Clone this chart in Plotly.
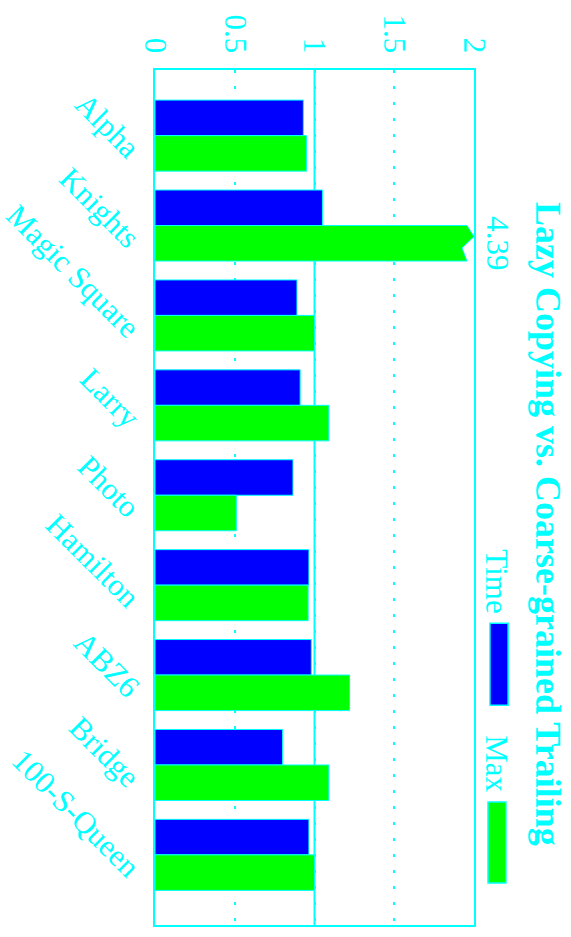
import plotly.graph_objects as go

categories = ["Alpha", "Knights", "Magic Square", "Larry", "Photo",
              "Hamilton", "ABZ6", "Bridge", "100-S-Queen"]
time_vals = [0.93, 1.05, 0.89, 0.91, 0.865, 0.965, 0.98, 0.80, 0.965]
max_vals = [0.95, 4.39, 1.00, 1.09, 0.51, 0.96, 1.22, 1.09, 1.00]
x_ticks = [0, 0.5, 1, 1.5, 2]
x_tick_labels = ["0", "0.5", "1", "1.5", "2"]
AXIS_MAX = 2.0

CYAN = "#00FFFF"
BLUE = "#0000FF"
GREEN = "#00FF00"
FONT = "Liberation Serif"
BARGAP = 0.21
W = (1 - BARGAP) / 2  # thickness of one bar in category units

idx = list(range(len(categories)))

fig = go.Figure()
fig.add_trace(go.Bar(
    y=idx, x=time_vals, orientation="h", name="Time",
    marker=dict(color=BLUE, line=dict(color=CYAN, width=1)),
))
clipped = [v > AXIS_MAX for v in max_vals]
fig.add_trace(go.Bar(
    y=idx, x=max_vals, orientation="h", name="Max",
    marker=dict(color=["rgba(0,0,0,0)" if c else GREEN for c in clipped],
                line=dict(color=CYAN, width=[0 if c else 1 for c in clipped])),
))

shapes = []
annotations = []
# clipped bars: broken end drawn as path
for i, (v, c) in enumerate(zip(max_vals, clipped)):
    if not c:
        continue
    y0 = i
    y1 = i + W
    yt = y0 + 0.31 * W
    yn = y0 + 0.63 * W
    a = AXIS_MAX * 0.978
    b = AXIS_MAX * 0.9625
    shapes.append(dict(
        type="path", xref="x", yref="y", layer="above",
        path=f"M 0,{y0} L {a},{y0} L {AXIS_MAX},{yt} L {b},{yn} L {a},{y1} L 0,{y1} Z",
        fillcolor=GREEN, line=dict(color=CYAN, width=1),
    ))
    annotations.append(dict(
        x=1.075, y=i + W / 2, xref="paper", yref="y",
        xanchor="center", yanchor="middle",
        text=f"{v:.2f}", showarrow=False, textangle=90,
        font=dict(family=FONT, size=31, color=CYAN),
    ))

# solid reference line at 1
shapes.append(dict(type="line", xref="x", yref="paper", x0=1, x1=1, y0=0, y1=1,
                   layer="below", line=dict(color=CYAN, width=2)))

# legend (rotated)
shapes.append(dict(type="rect", xref="paper", yref="paper",
                   x0=1.050, x1=1.107, y0=0.257, y1=0.353,
                   fillcolor=BLUE, line=dict(color=CYAN, width=1.5)))
shapes.append(dict(type="rect", xref="paper", yref="paper",
                   x0=1.044, x1=1.100, y0=0.049, y1=0.144,
                   fillcolor=GREEN, line=dict(color=CYAN, width=1.5)))
annotations.append(dict(x=1.072, y=0.402, xref="paper", yref="paper", text="Time",
                        xanchor="center", yanchor="middle",
                        showarrow=False, textangle=90,
                        font=dict(family=FONT, size=31, color=CYAN)))
annotations.append(dict(x=1.072, y=0.188, xref="paper", yref="paper", text="Max",
                        xanchor="center", yanchor="middle",
                        showarrow=False, textangle=90,
                        font=dict(family=FONT, size=31, color=CYAN)))
# title (rotated)
annotations.append(dict(x=1.232, y=0.469, xref="paper", yref="paper",
                        xanchor="center", yanchor="middle",
                        text="<b>Lazy Copying vs. Coarse-grained Trailing</b>",
                        showarrow=False, textangle=90,
                        font=dict(family=FONT, size=36, color=CYAN)))

fig.update_layout(
    width=571, height=937,
    margin=dict(l=155, r=97, t=70, b=12),
    paper_bgcolor="white", plot_bgcolor="white",
    barmode="group", bargap=BARGAP, bargroupgap=0,
    showlegend=False,
    shapes=shapes, annotations=annotations,
    xaxis=dict(side="top", range=[0, AXIS_MAX], tickvals=x_ticks, ticktext=x_tick_labels,
               tickangle=90, ticks="", showgrid=True, gridcolor=CYAN, gridwidth=1.5,
               griddash="3px,13px", zeroline=False, ticklabelstandoff=4, automargin=False,
               showline=True, mirror=True, linecolor=CYAN, linewidth=2,
               tickfont=dict(family=FONT, size=31, color=CYAN)),
    yaxis=dict(range=[len(categories) - 1 + 0.78, -0.73], tickvals=idx, ticktext=categories,
               tickangle=45, ticks="", showgrid=False, zeroline=False,
               ticklabelstandoff=9, ticklabelshift=-18, automargin=False,
               showline=True, mirror=True, linecolor=CYAN, linewidth=2,
               tickfont=dict(family=FONT, size=31, color=CYAN)),
)

fig.write_html("out.html")
